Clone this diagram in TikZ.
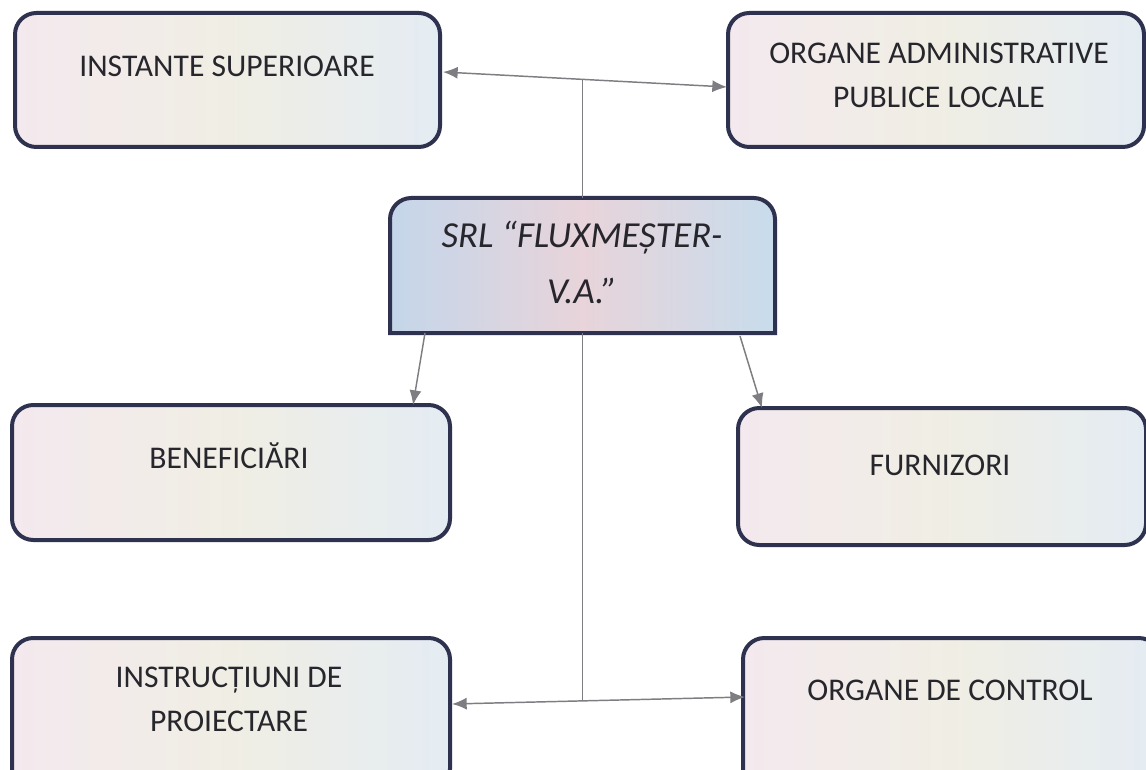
\documentclass[tikz,border=0pt]{standalone}
\usepackage{fontspec}
\setmainfont{Carlito}
\usetikzlibrary{arrows.meta,calc}
\definecolor{bord}{RGB}{46,50,78}
\definecolor{ink}{RGB}{38,38,44}
\definecolor{conn}{RGB}{125,125,130}
\definecolor{pA}{RGB}{243,233,238}
\definecolor{pB}{RGB}{228,236,243}
\definecolor{pC}{RGB}{240,238,228}
\definecolor{cA}{RGB}{196,214,234}
\definecolor{cB}{RGB}{200,220,236}
\definecolor{cC}{RGB}{232,212,218}
\begin{document}
\begin{tikzpicture}[x=0.75pt,y=0.75pt,
  >={Latex[length=11pt,width=9pt]},
  box/.style={draw=bord, line width=3pt, rounded corners=16pt, inner sep=0pt, outer sep=0pt,
    left color=pA, right color=pB, middle color=pC},
  frame/.style={shape=rectangle, inner sep=0pt, outer sep=0pt},
  cbox/.style={draw=bord, line width=3pt, left color=cA, right color=cB, middle color=cC},
  link/.style={draw=conn, line width=1.1pt},
  txt/.style={text=ink, inner sep=0pt, outer sep=0pt, align=center, font=\fontsize{23.7}{33}\selectfont},
  ctxt/.style={text=ink, inner sep=0pt, outer sep=0pt, align=center, font=\fontsize{27.5}{42}\selectfont\itshape}
]
\useasboundingbox[fill=white] (0,0) rectangle (1146,769);

% boxes
\node[box, minimum width=425*0.75pt, minimum height=134*0.75pt] (inst) at (227.5,689) {};
\node[box, minimum width=416*0.75pt, minimum height=134*0.75pt] (oapl) at (936,689) {};
\node[frame, minimum width=385*0.75pt, minimum height=135*0.75pt] (srl) at (582.5,503.5) {};
\draw[cbox] (srl.south west) -- ([yshift=-16pt]srl.north west)
  arc[start angle=180, end angle=90, radius=16pt]
  -- ([xshift=-16pt]srl.north east)
  arc[start angle=90, end angle=0, radius=16pt]
  -- (srl.south east) -- cycle;
\node[box, minimum width=438*0.75pt, minimum height=135*0.75pt] (ben) at (231,296.5) {};
\node[box, minimum width=408*0.75pt, minimum height=137*0.75pt] (furn) at (942,292.5) {};
\node[box, minimum width=438*0.75pt, minimum height=152*0.75pt] (instr) at (231,55) {};
\node[box, minimum width=417*0.75pt, minimum height=152*0.75pt] (oc) at (951.5,55) {};

% connectors
\coordinate (tj) at (582.5,689.6);
\coordinate (bj) at (582.5,68);
\draw[link,<->] ($(inst.east)+(3,8)$) -- ($(oapl.west)+(-1,-7)$);
\draw[link] (srl.north) -- (srl.north |- tj);
\draw[link] (srl.south) -- (bj);
\draw[link,<->] ($(instr.east)+(2,10)$) -- ($(oc.west)+(2,17)$);
\draw[link,->] ($(srl.south west)+(35,0)$) -- ($(ben.north west)+(401,0)$);
\draw[link,->] ($(srl.south east)+(-35,-3)$) -- ($(furn.north west)+(24,0)$);

% texts
\node[txt, anchor=base] (t-inst) at (227,692) {INSTANTE SUPERIOARE};
\node[txt] (t-oapl) at (939,694) {ORGANE ADMINISTRATIVE\\PUBLICE LOCALE};
\node[ctxt] (t-srl) at (582,507) {SRL “FLUXMEȘTER-\\V.A.”};
\node[txt, anchor=base] (t-ben) at (229,301) {BENEFICIĂRI};
\node[txt, anchor=base] (t-furn) at (940,294) {FURNIZORI};
\node[txt] (t-instr) at (229,69.5) {INSTRUCȚIUNI DE\\PROIECTARE};
\node[txt, anchor=base] (t-oc) at (950,69) {ORGANE DE CONTROL};
\end{tikzpicture}
\end{document}
